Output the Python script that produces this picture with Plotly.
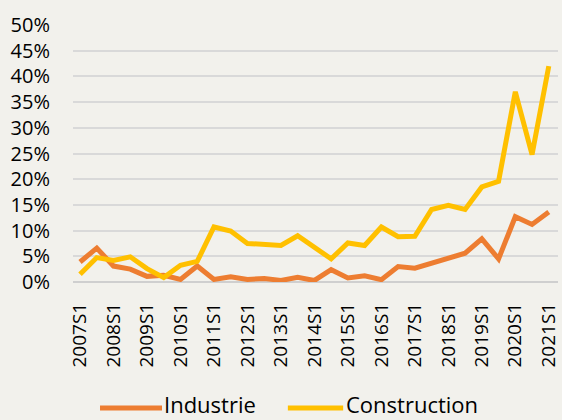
import plotly.graph_objects as go

periods = [f"{y}S{s}" for y in range(2007, 2022) for s in (1, 2)][:29]
tick_labels = [p for p in periods if p.endswith("S1")]

industrie = [3.9, 6.6, 3.1, 2.5, 1.1, 1.3, 0.5, 3.1, 0.5, 1.0, 0.5, 0.7, 0.3,
             0.9, 0.3, 2.4, 0.8, 1.2, 0.45, 3.0, 2.7, 3.7, 4.8, 5.6, 8.4, 4.5,
             12.7, 11.2, 13.6]
construction = [1.5, 4.75, 4.2, 4.9, 2.6, 0.85, 3.25, 4.0, 10.7, 9.9, 7.5, 7.3,
                7.1, 9.0, 6.8, 4.5, 7.6, 7.1, 10.7, 8.8, 8.9, 14.1, 14.9, 14.1,
                18.5, 19.6, 37.0, 24.8, 42.0]

series_names = ["Industrie", "Construction"]
series_colors = ["#ED7D31", "#FFC000"]
series_values = [industrie, construction]

y_ticks = list(range(0, 55, 5))
y_labels = [f"{v}%" for v in y_ticks]

BG = "#F2F1EC"
FONT = "Open Sans"

fig = go.Figure()
for name, color, vals in zip(series_names, series_colors, series_values):
    fig.add_trace(go.Scatter(x=periods, y=vals, name=name, mode="lines",
                             line=dict(color=color, width=5)))

# Manual legend (long line swatches like the reference)
legend_items = [(0.0557, 0.1835, 0.184), (0.443, 0.557, 0.559)]
swatch_y = -0.49
text_y = -0.474
for (x0, x1, xt), name, color in zip(legend_items, series_names, series_colors):
    fig.add_shape(type="line", xref="paper", yref="paper", x0=x0, x1=x1,
                  y0=swatch_y, y1=swatch_y, line=dict(color=color, width=5))
    fig.add_annotation(xref="paper", yref="paper", x=xt, y=text_y,
                       xanchor="left", yanchor="middle", text=name,
                       showarrow=False, font=dict(size=22, family=FONT, color="#000000"))

fig.update_layout(
    width=562, height=420,
    margin=dict(l=73, r=4, t=25, b=138),
    paper_bgcolor=BG, plot_bgcolor=BG,
    font=dict(family=FONT, color="#000000", size=20),
    showlegend=False,
    xaxis=dict(type="category", categoryorder="array", categoryarray=periods,
               tickmode="array", tickvals=tick_labels, ticktext=tick_labels,
               tickangle=-90, range=[-0.42, 28.55], showgrid=False,
               showline=False, zeroline=False, ticks="", ticklabelstandoff=16,
               tickfont=dict(size=19), automargin=False),
    yaxis=dict(range=[0, 50], tickmode="array", tickvals=y_ticks, ticktext=y_labels,
               showgrid=True, gridcolor="#D9D9D9", gridwidth=2, zeroline=True,
               zerolinecolor="#CFCFCF", zerolinewidth=2, showline=False, ticks="",
               ticklabelstandoff=22, tickfont=dict(size=20), automargin=False),
)

fig.write_html(
    "out.html",
    config={"displayModeBar": False},
    post_script="document.body.style.margin='0';document.body.style.padding='0';"
                "document.body.style.overflow='hidden';"
                "document.body.style.background='" + BG + "';",
)
